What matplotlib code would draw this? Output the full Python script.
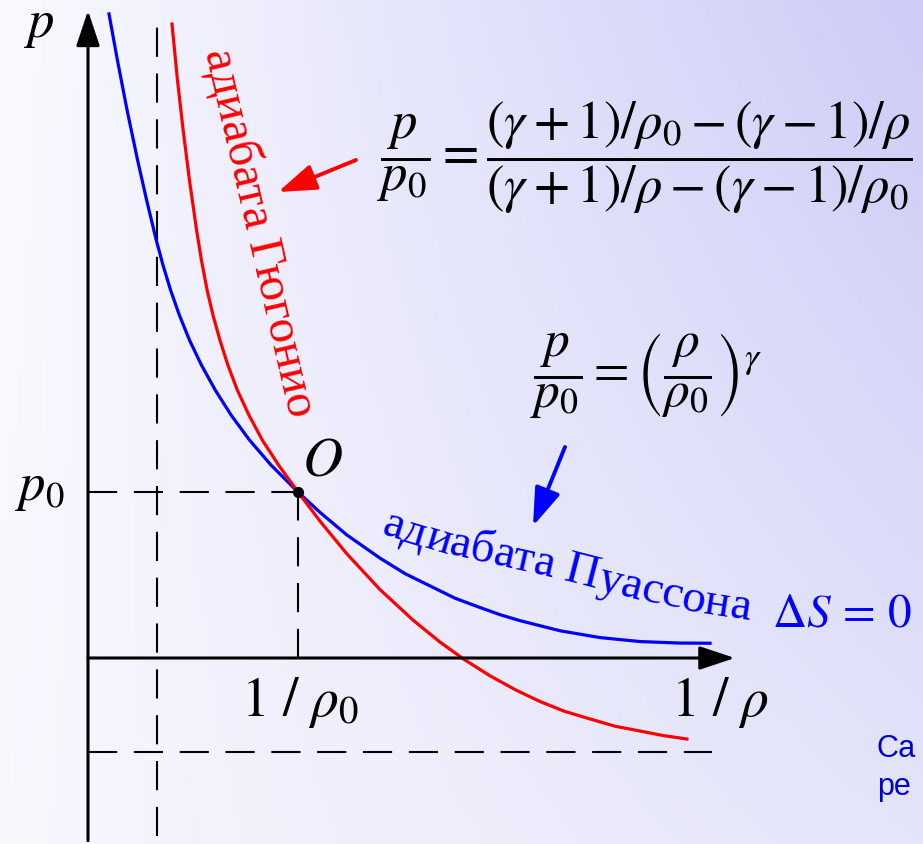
import numpy as np
import matplotlib.pyplot as plt
from matplotlib.textpath import TextPath
from matplotlib.font_manager import FontProperties
from matplotlib.transforms import IdentityTransform

plt.rcParams['mathtext.fontset'] = 'stix'
plt.rcParams['font.family'] = ['Liberation Serif', 'DejaVu Serif']

# x = 1/rho in units of 1/rho0, y = p in units of p0
poisson_x = [0.100, 0.140, 0.186, 0.236, 0.279, 0.325, 0.357, 0.393, 0.435, 0.483,
             0.540, 0.606, 0.681, 0.769, 0.871, 1.000, 1.105, 1.233, 1.390, 1.510,
             1.629, 1.748, 1.867, 1.962, 2.057, 2.248, 2.438, 2.629, 2.819, 2.962]
poisson_p = [3.880, 3.602, 3.301, 3.000, 2.759, 2.518, 2.367, 2.217, 2.066, 1.916,
             1.765, 1.614, 1.464, 1.313, 1.163, 1.000, 0.877, 0.741, 0.602, 0.508,
             0.434, 0.360, 0.304, 0.261, 0.225, 0.164, 0.123, 0.099, 0.090, 0.089]
hugoniot_x = [0.400, 0.426, 0.453, 0.483, 0.517, 0.540, 0.567, 0.595, 0.628, 0.666,
              0.711, 0.766, 0.830, 0.907, 1.000, 1.105, 1.233, 1.390, 1.548, 1.676,
              1.795, 1.914, 2.033, 2.152, 2.271, 2.390, 2.510, 2.629, 2.738, 2.852]
hugoniot_p = [3.819, 3.482, 3.181, 2.880, 2.578, 2.398, 2.217, 2.066, 1.916, 1.765,
              1.614, 1.464, 1.313, 1.163, 1.000, 0.824, 0.627, 0.413, 0.228, 0.096,
              -0.012, -0.107, -0.190, -0.262, -0.322, -0.367, -0.411, -0.440, -0.467, -0.488]
x_min = 0.329      # vertical asymptote of the Hugoniot curve
p_min = -0.566     # horizontal asymptote of the Hugoniot curve
x_end, p_end = 3.08, 3.90

W, H = 923, 844
fig = plt.figure(figsize=(W / 100, H / 100), dpi=100)
ax = fig.add_axes([0, 0, 1, 1])
ox, oy, sx, sy = 88, 658, 210, 166   # pixel origin and pixels per unit
ax.set_xlim(-ox / sx, (W - ox) / sx)
ax.set_ylim((oy - H) / sy, oy / sy)
ax.axis('off')


def px(x, y):
    # picture pixel -> data
    return (x - ox) / sx, (oy - y) / sy


# background gradient
gx, gy = np.meshgrid(np.linspace(0, 1, 200), np.linspace(0, 1, 200))
gx, gy = gx[..., None], gy[..., None]
tl, tr = np.array([250, 250, 255]), np.array([204, 204, 247])
bl, br = np.array([247, 247, 254]), np.array([228, 228, 250])
bg = (tl * (1 - gx) * (1 - gy) + tr * gx * (1 - gy) + bl * (1 - gx) * gy + br * gx * gy) / 255
ax.imshow(bg, extent=(*ax.get_xlim(), *ax.get_ylim()), aspect='auto', zorder=0)

# dashed guides
dash = dict(color='k', lw=1.5, dashes=(14, 8))
ax.plot([x_min, x_min], [ax.get_ylim()[0] + 0.05, 3.86], **dash)
ax.plot([0, 1], [1, 1], **dash)
ax.plot([1, 1], [0, 1], **dash)
ax.plot([0, 2.97], [p_min, p_min], **dash)

# axes with arrows
arr = dict(arrowstyle='-|>,head_length=1.5,head_width=0.5', mutation_scale=14.5,
           color='k', lw=2.2, shrinkA=0, shrinkB=0)
ax.annotate('', xy=(0, p_end), xytext=(0, ax.get_ylim()[0] + 0.02), arrowprops=arr)
ax.annotate('', xy=(x_end, 0), xytext=(0, 0), arrowprops=arr)

# curves
ax.plot(poisson_x, poisson_p, color='#0000ff', lw=2.3, solid_joinstyle='round')
ax.plot(hugoniot_x, hugoniot_p, color='#ff0000', lw=2.3, solid_joinstyle='round')
ax.plot([1], [1], 'o', color='k', ms=7, zorder=5)

# pointer arrows
ax.annotate('', xy=px(278, 192), xytext=px(356, 160),
            arrowprops=dict(arrowstyle='-|>,head_length=1.6,head_width=0.55',
                            mutation_scale=14.5, color='#ff0000', lw=2.8,
                            shrinkA=0, shrinkB=0))
ax.annotate('', xy=px(533, 526), xytext=px(565, 447),
            arrowprops=dict(arrowstyle='-|>,head_length=1.6,head_width=0.55',
                            mutation_scale=14.5, color='#0000ff', lw=2.8,
                            shrinkA=0, shrinkB=0))

# labels
ax.text(*px(39, 26), r'$p$', fontsize=38, ha='center', va='center')
ax.text(*px(40, 489), r'$p_0$', fontsize=38, ha='center', va='center')
ax.text(*px(322, 461), r'$O$', fontsize=40, ha='center', va='center')
ax.text(*px(300, 702), r'$1\ /\ \rho_0$', fontsize=40, ha='center', va='center')
ax.text(*px(720, 703), r'$1\ /\ \rho$', fontsize=40, ha='center', va='center')
ax.text(*px(842, 615), r'$\Delta S\, =\, 0$', fontsize=34, ha='center', va='center',
        color='#0000ff')

ax.text(*px(645, 158),
        r'$\dfrac{p}{p_0}=\dfrac{\left(\gamma+1\right)/\rho_0-\left(\gamma-1\right)/\rho}'
        r'{\left(\gamma+1\right)/\rho-\left(\gamma-1\right)/\rho_0}$',
        fontsize=38, ha='center', va='center')
ax.text(*px(646, 376), r'$\dfrac{p}{p_0}=\left(\dfrac{\rho}{\rho_0}\right)^{\gamma}$',
        fontsize=37, ha='center', va='center')

ax.text(*px(204, 52), 'адиабата Гюгонио', fontsize=35, color='#ff0000',
        rotation=-77, rotation_mode='anchor', ha='left', va='baseline')


def text_on_path(s, pts, size, color):
    fp = FontProperties(family='Liberation Serif', size=size)
    fs_px = size * 100 / 72
    d = np.array([(x, H - y) for x, y in pts], float)
    seg = np.hypot(*np.diff(d, axis=0).T)
    cum = np.r_[0, np.cumsum(seg)]
    for i, ch in enumerate(s):
        if ch == ' ':
            continue
        e_pre = TextPath((0, 0), s[:i + 1], size=fs_px, prop=fp).get_extents()
        e_ch = TextPath((0, 0), ch, size=fs_px, prop=fp).get_extents()
        c = e_pre.x1 - e_ch.x1 + (e_ch.x0 + e_ch.x1) / 2
        x = np.interp(c, cum, d[:, 0])
        y = np.interp(c, cum, d[:, 1])
        k = max(min(np.searchsorted(cum, c), len(seg)) - 1, 0)
        ang = np.degrees(np.arctan2(d[k + 1, 1] - d[k, 1], d[k + 1, 0] - d[k, 0]))
        ax.text(x, y, ch, fontproperties=fp, color=color, rotation=ang,
                rotation_mode='anchor', ha='center', va='baseline',
                transform=IdentityTransform())


text_on_path('адиабата Пуассона',
             [(380, 534), (446, 554), (554, 578), (640, 600), (700, 613), (770, 624)],
             34, '#0000ff')

ax.text(*px(877, 757), 'Са', fontsize=22, family='Liberation Sans', color='#0000cc',
        ha='left', va='baseline')
ax.text(*px(877, 795), 'ре', fontsize=22, family='Liberation Sans', color='#0000cc',
        ha='left', va='baseline')

fig.savefig('out.png', dpi=100)
